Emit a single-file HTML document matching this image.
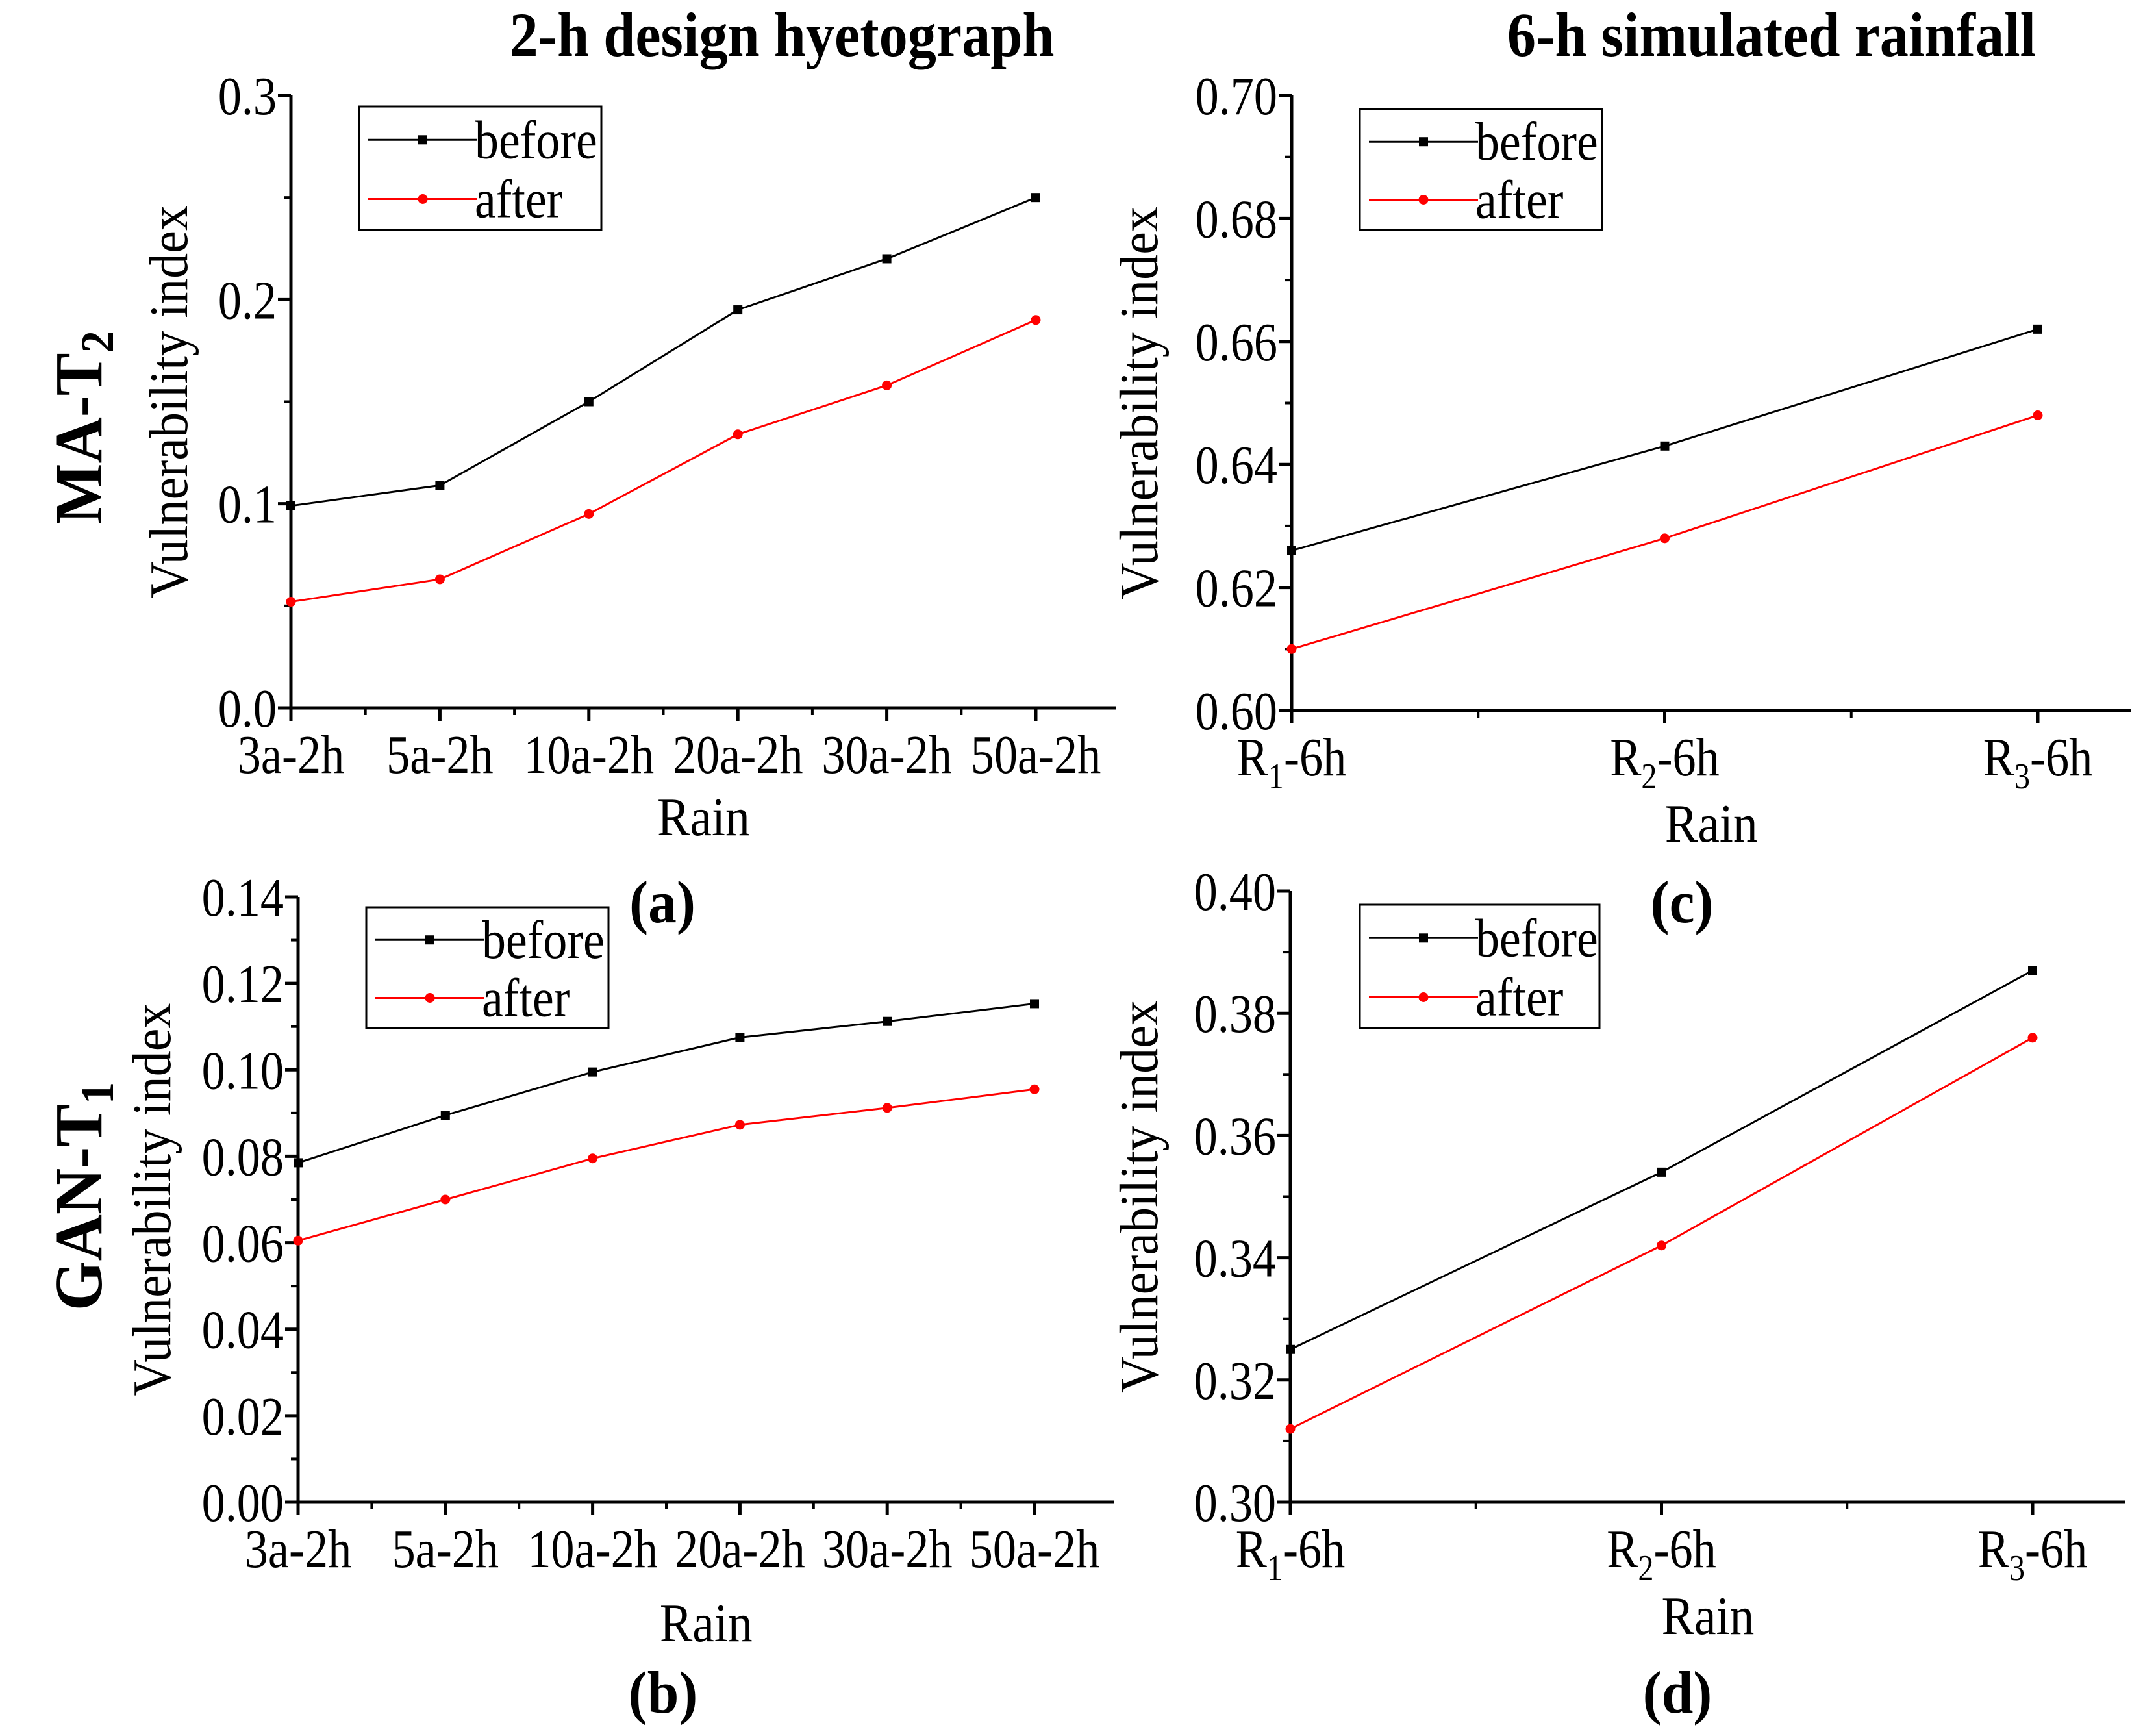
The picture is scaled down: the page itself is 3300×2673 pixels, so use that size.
<!DOCTYPE html>
<html><head><meta charset="utf-8"><style>
html,body{margin:0;padding:0;background:#fff}
svg{display:block}
text{font-family:"Liberation Serif",serif;fill:#000}
</style></head><body>
<svg id="fig" width="3300" height="2673" viewBox="0 0 3300 2673" xmlns="http://www.w3.org/2000/svg">
<text transform="translate(1204,86) scale(0.92,1)" font-size="96" font-weight="bold" text-anchor="middle">2-h design hyetograph</text>
<text transform="translate(2728,86) scale(0.92,1)" font-size="96" font-weight="bold" text-anchor="middle">6-h simulated rainfall</text>
<text transform="translate(156,658) rotate(-90) scale(0.95,1)" font-size="104" font-weight="bold" text-anchor="middle">MA-T<tspan font-size="72" dy="18">2</tspan></text>
<text transform="translate(156,1842) rotate(-90) scale(0.95,1)" font-size="104" font-weight="bold" text-anchor="middle">GAN-T<tspan font-size="72" dy="18">1</tspan></text>
</svg>
<script>
const catsA = ["3a-2h","5a-2h","10a-2h","20a-2h","30a-2h","50a-2h"];
const beforeA = [0.099,0.109,0.150,0.195,0.220,0.250];
const afterA = [0.052,0.063,0.095,0.134,0.158,0.190];
const ticksA = [0.0,0.1,0.2,0.3];
const catsB = ["3a-2h","5a-2h","10a-2h","20a-2h","30a-2h","50a-2h"];
const beforeB = [0.0785,0.0895,0.0995,0.1075,0.1112,0.1153];
const afterB = [0.0605,0.0700,0.0795,0.0873,0.0912,0.0955];
const ticksB = [0.00,0.02,0.04,0.06,0.08,0.10,0.12,0.14];
const catsC = ["R1","R2","R3"];
const beforeC = [0.626,0.643,0.662];
const afterC = [0.610,0.628,0.648];
const ticksC = [0.60,0.62,0.64,0.66,0.68,0.70];
const catsD = ["R1","R2","R3"];
const beforeD = [0.325,0.354,0.387];
const afterD = [0.312,0.342,0.376];
const ticksD = [0.30,0.32,0.34,0.36,0.38,0.40];

const NS="http://www.w3.org/2000/svg";
const svg=document.getElementById('fig');
function mk(tag,attrs,parent){const e=document.createElementNS(NS,tag);for(const k in attrs)e.setAttribute(k,attrs[k]);(parent||svg).appendChild(e);return e;}
function txt(parent,x,y,size,anchor,sx,rot){
  const t=mk('text',{transform:`translate(${x},${y})`+(rot?' rotate(-90)':'')+` scale(${sx},1)`,'font-size':size,'text-anchor':anchor},parent);
  return t;
}

function panel(cfg){
  const g=mk('g',{});
  
  
  const n=cfg.cats.length;
  const step=(cfg.xLast-cfg.x0)/(n-1);
  const xR=cfg.xLast+step*cfg.tail;
  const ymin=cfg.ticks[0], ymax=cfg.ticks[cfg.ticks.length-1];
  const X=i=>cfg.x0+i*step;
  const Y=v=>cfg.yB-(v-ymin)/(ymax-ymin)*(cfg.yB-cfg.yT);
  const ax=mk('path',{d:`M${cfg.x0},${cfg.yT} V${cfg.yB} H${xR}`,stroke:'#000','stroke-width':5,fill:'none'},g);
  
  
  const dt=cfg.ticks[1]-cfg.ticks[0];
  cfg.ticks.forEach((t,i)=>{
    const y=Y(t);
    mk('line',{x1:cfg.x0-20,y1:y,x2:cfg.x0,y2:y,stroke:'#000','stroke-width':5},g);
    const lb=txt(g,cfg.x0-22,y+29,84,'end',0.86);
    lb.textContent=t.toFixed(cfg.dec);
    
    
    if(i<cfg.ticks.length-1){const ym=Y(t+dt/2);mk('line',{x1:cfg.x0-11,y1:ym,x2:cfg.x0,y2:ym,stroke:'#000','stroke-width':4},g);}
  });
  cfg.cats.forEach((c,i)=>{
    const x=X(i);
    mk('line',{x1:x,y1:cfg.yB,x2:x,y2:cfg.yB+20,stroke:'#000','stroke-width':5},g);
    if(i<n-1) mk('line',{x1:x+step/2,y1:cfg.yB,x2:x+step/2,y2:cfg.yB+11,stroke:'#000','stroke-width':4},g);
    const lb=txt(g,x,cfg.yB+100,84,'middle',0.86);
    
    
    if(cfg.sub){
      lb.textContent='R';
      const s=mk('tspan',{'font-size':56,dy:20},lb);s.textContent=c.slice(1);
      const r=mk('tspan',{dy:-20},lb);r.textContent='-6h';
    } else lb.textContent=c;
  });
  const yt=txt(g,cfg.ytx,(cfg.yT+cfg.yB)/2,84,'middle',0.93,true);
  yt.textContent='Vulnerability index';
  
  
  const xt=txt(g,(cfg.x0+xR)/2,cfg.rainY,84,'middle',0.9);
  xt.textContent='Rain';
  
  
  const pl=txt(g,cfg.labX,cfg.labY,92,'middle',0.95);
  pl.setAttribute('font-weight','bold');
  pl.textContent=cfg.label;
  
  
  [[cfg.before,'#000','square','series-before'],[cfg.after,'#f00','circle','series-after']].forEach(([vals,col,mkT,nm])=>{
    const pts=vals.map((v,i)=>X(i)+','+Y(v)).join(' ');
    const line=mk('polyline',{points:pts,stroke:col,'stroke-width':3,fill:'none'},g);
    
    
    vals.forEach((v,i)=>{
      let m;
      if(mkT==='square') m=mk('rect',{x:X(i)-7,y:Y(v)-7,width:14,height:14,fill:col},g);
      else m=mk('circle',{cx:X(i),cy:Y(v),r:7.5,fill:col},g);
      
      
    });
  });
  const L=cfg.leg;
  const lg=mk('g',{},g);
  
  
  mk('rect',{x:L[0],y:L[1],width:L[2],height:L[3],fill:'#fff',stroke:'#000','stroke-width':3},lg);
  [['before','#000',0],['after','#f00',1]].forEach(([t,col,k])=>{
    const yy=L[1]+L[3]*(0.27+0.48*k);
    const e=mk('g',{},lg);
    
    
    mk('line',{x1:L[0]+14,y1:yy,x2:L[0]+182,y2:yy,stroke:col,'stroke-width':3},e);
    if(k===0) mk('rect',{x:L[0]+91,y:yy-7,width:14,height:14,fill:col},e);
    else mk('circle',{cx:L[0]+98,cy:yy,r:7.5,fill:col},e);
    const tx=txt(e,L[0]+178,yy+28,84,'start',0.88);
    tx.textContent=t;
  });
}

panel({name:'panel-a',cats:catsA,before:beforeA,after:afterA,ticks:ticksA,dec:1,tail:0.54,x0:448,xLast:1595,yT:147,yB:1090,ytx:288,rainY:1286,label:'(a)',labX:1020,labY:1420,leg:[553,164,373,190]});
panel({name:'panel-b',cats:catsB,before:beforeB,after:afterB,ticks:ticksB,dec:2,tail:0.54,x0:459,xLast:1593,yT:1381,yB:2313,ytx:262,rainY:2527,label:'(b)',labX:1021,labY:2637,leg:[564,1397,373,186]});
panel({name:'panel-c',cats:catsC,before:beforeC,after:afterC,ticks:ticksC,dec:2,sub:true,tail:0.25,x0:1989,xLast:3138,yT:147,yB:1094,ytx:1782,rainY:1296,label:'(c)',labX:2590,labY:1420,leg:[2094,168,373,186]});
panel({name:'panel-d',cats:catsD,before:beforeD,after:afterD,ticks:ticksD,dec:2,sub:true,tail:0.25,x0:1987,xLast:3130,yT:1372,yB:2313,ytx:1782,rainY:2516,label:'(d)',labX:2583,labY:2637,leg:[2094,1393,369,190]});
</script>
</body></html>
